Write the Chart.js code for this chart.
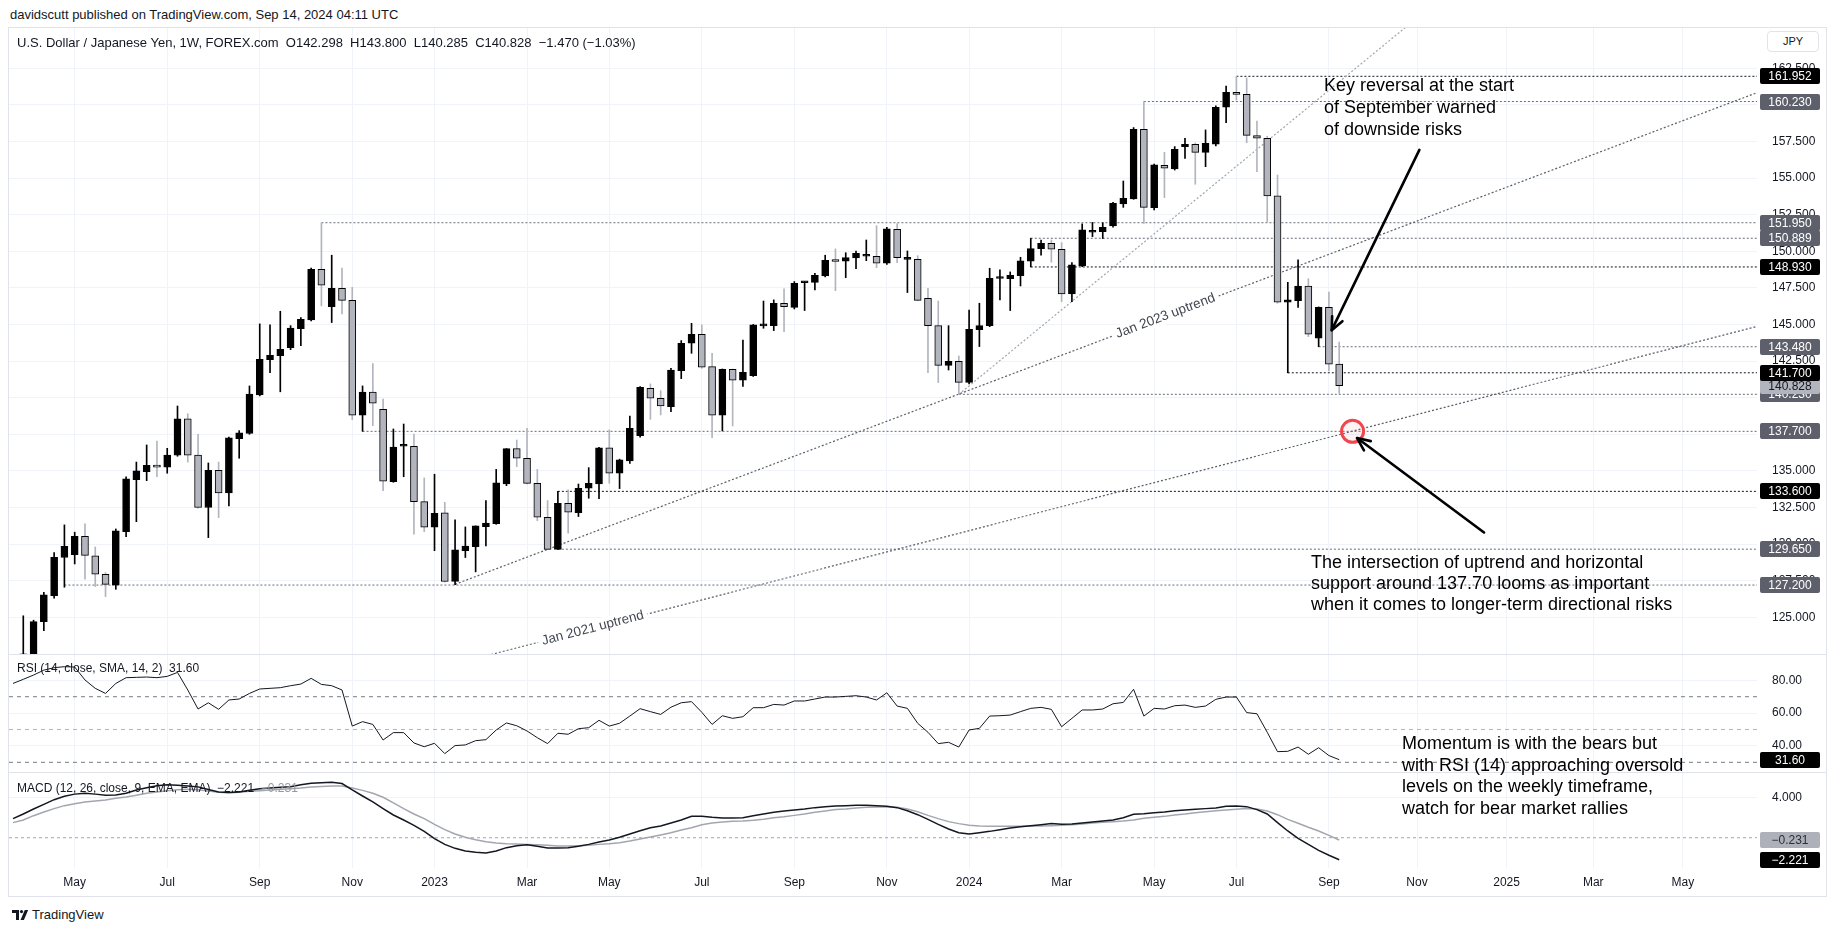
<!DOCTYPE html>
<html><head><meta charset="utf-8"><title>USD/JPY weekly</title>
<script src="https://cdn.jsdelivr.net/npm/chart.js@4/dist/chart.umd.min.js"></script>
<style>
html,body{margin:0;padding:0;background:#fff}
body{position:relative;width:1835px;height:931px;overflow:hidden;font-family:"Liberation Sans",Arial,sans-serif;color:#131722}
canvas{position:absolute;left:0}
.t{position:absolute;white-space:pre}
.ln{position:absolute;background:#e0e3eb}
</style></head><body>
<div class="t" style="left:10px;top:7px;font-size:13px;line-height:16px">davidscutt published on TradingView.com, Sep 14, 2024 04:11 UTC</div>
<canvas id="cMain" width="1835" height="627" style="top:27px"></canvas>
<canvas id="cRsi" width="1835" height="118" style="top:654px"></canvas>
<canvas id="cMacd" width="1835" height="124" style="top:772px"></canvas>
<div class="ln" style="left:8px;top:27px;width:1819px;height:1px"></div>
<div class="ln" style="left:8px;top:896px;width:1819px;height:1px"></div>
<div class="ln" style="left:8px;top:27px;width:1px;height:870px"></div>
<div class="ln" style="left:1826px;top:27px;width:1px;height:870px"></div>
<div class="ln" style="left:8px;top:654px;width:1819px;height:1px"></div>
<div class="ln" style="left:8px;top:772px;width:1819px;height:1px"></div>
<div class="t" style="left:17px;top:35px;font-size:13px;line-height:16px">U.S. Dollar / Japanese Yen, 1W, FOREX.com  O142.298  H143.800  L140.285  C140.828  −1.470 (−1.03%)</div>
<div class="t" style="left:1767px;top:31px;width:50px;height:19px;border:1px solid #e0e3eb;border-radius:4px;background:#fff;font-size:11px;line-height:19px;text-align:center">JPY</div>
<div class="t" style="left:1324px;top:74px;font-size:18px;line-height:22px;color:#000">Key reversal at the start
of September warned
of downside risks</div>
<div class="t" style="left:1311px;top:552px;font-size:18px;line-height:21px;color:#000">The intersection of uptrend and horizontal
support around 137.70 looms as important
when it comes to longer-term directional risks</div>
<div class="t" style="left:1402px;top:733px;font-size:18px;line-height:21.7px;color:#000">Momentum is with the bears but
with RSI (14) approaching oversold
levels on the weekly timeframe,
watch for bear market rallies</div>
<div class="t" style="left:17px;top:661px;font-size:12px;line-height:14px">RSI (14, close, SMA, 14, 2)  31.60</div>
<div class="t" style="left:17px;top:781px;font-size:12px;line-height:14px">MACD (12, 26, close, 9, EMA, EMA)  −2.221  <span style="color:#9598a1">−0.231</span></div>
<svg style="position:absolute;left:12px;top:909px" width="18" height="12" viewBox="0 0 18 12"><path d="M0 1h7v10H4V4H0z" fill="#131722"/><circle cx="9.5" cy="2.6" r="1.6" fill="#131722"/><path d="M8.5 11L12.8 1h3.4l-4.3 10z" fill="#131722"/></svg>
<div class="t" style="left:32px;top:907px;font-size:13px;line-height:16px;color:#131722">TradingView</div>

<script>
// ---------------- data ----------------
const weekStart = '2022-03-28';          // week of the first candle (index 0)
const opens = [122.05,122.50,124.70,126.48,129.08,129.28,130.53,129.20,127.94,127.20,
130.85,134.40,134.95,135.38,135.25,136.07,138.55,136.07,132.50,135.04,
133.50,137.20,137.55,140.19,142.60,142.87,143.42,144.72,145.31,148.77,
146.22,147.47,146.65,138.80,140.39,139.20,134.27,136.68,136.68,132.90,
131.15,132.13,127.44,129.55,129.83,131.19,131.40,134.10,136.52,135.86,
134.15,131.83,129.64,132.79,132.15,133.81,134.11,136.57,134.84,135.68,
137.40,140.64,139.96,139.39,141.85,143.72,144.33,142.12,138.80,141.94,
141.19,141.51,144.90,144.92,146.45,146.17,147.85,147.88,148.31,149.35,
149.32,149.54,149.66,149.66,149.18,151.50,149.45,149.45,146.79,144.92,
142.21,142.49,141.05,144.65,144.92,148.14,148.13,148.34,149.32,150.18,
150.55,150.14,147.09,149.00,151.30,151.34,151.73,153.23,153.57,158.33,
152.98,155.87,155.62,157.15,157.31,156.76,157.31,159.84,160.86,160.72,
157.90,157.72,153.78,146.52,146.63,147.63,144.06,146.17,142.298];
const highs = [125.10,124.80,126.71,129.42,131.31,130.81,131.38,129.80,128.05,131.03,
134.60,135.60,136.77,137.04,136.54,139.43,138.90,137.50,135.54,135.60,
137.30,137.75,140.80,145.04,144.97,145.90,144.92,145.47,148.86,151.95,
149.73,148.86,147.54,140.80,142.33,139.91,137.86,138.20,137.52,134.52,
134.77,132.85,131.65,131.17,131.24,132.97,135.10,136.52,137.11,137.90,
135.10,132.97,133.60,133.70,134.10,135.22,136.60,137.80,135.80,138.75,
140.75,140.94,140.48,142.00,143.90,145.08,144.97,143.03,141.96,141.96,
143.94,145.00,146.60,146.68,147.43,147.93,147.93,148.50,149.73,150.16,
149.90,150.02,150.77,151.75,151.64,151.90,150.02,149.70,147.47,146.60,
144.92,142.85,145.99,146.45,148.84,148.73,148.59,149.59,150.889,150.77,
150.77,150.59,149.23,151.87,151.97,151.95,153.35,154.80,158.45,160.23,
155.95,156.76,157.15,157.72,157.40,158.29,159.93,161.29,161.952,161.84,
158.90,157.86,155.21,147.88,149.41,148.13,146.20,147.22,143.80];
const lows = [121.30,122.40,124.09,126.30,127.05,128.64,127.60,127.10,126.41,126.91,
130.50,131.53,134.33,134.60,134.84,136.00,135.60,132.45,130.44,131.80,
132.60,135.86,137.50,140.12,141.70,140.40,143.28,143.56,145.25,146.27,
145.13,145.72,138.50,137.70,138.09,133.65,134.22,134.60,130.67,130.85,
129.55,127.40,127.23,129.08,128.10,129.87,131.35,133.99,135.29,134.10,
131.60,129.64,129.64,130.74,131.88,133.13,133.10,134.15,133.79,135.50,
137.30,138.52,138.82,139.05,141.30,143.03,142.00,137.27,137.73,138.07,
140.76,141.45,144.74,144.58,144.51,146.06,145.95,147.36,148.25,147.31,
148.20,148.82,149.36,148.88,149.10,149.23,147.18,146.62,141.71,141.03,
141.89,140.23,140.94,143.49,144.85,146.68,145.95,147.63,148.93,149.73,
149.25,146.56,146.56,148.95,151.00,150.87,151.65,153.00,153.55,151.91,
152.82,153.67,155.55,156.35,154.58,155.78,157.20,158.79,160.34,157.42,
155.44,151.98,146.45,141.70,146.17,144.17,143.48,141.83,140.285];
const closes = [122.50,124.70,126.53,129.10,129.85,130.53,129.23,127.94,127.25,130.90,
134.45,135.00,135.38,135.25,136.07,138.55,136.07,132.50,135.04,133.50,
137.25,137.60,140.25,142.62,142.90,143.30,144.76,145.35,148.77,147.68,
147.47,146.65,138.80,140.39,139.62,134.29,136.63,136.72,132.90,131.15,
132.10,127.44,129.60,129.87,131.24,131.44,134.18,136.52,135.86,134.15,
131.83,129.64,132.79,132.17,133.81,134.15,136.57,134.84,135.75,137.90,
140.71,139.96,139.44,141.89,143.72,144.33,142.08,138.80,141.94,141.19,
141.73,144.97,145.00,146.45,146.22,147.81,147.88,148.36,149.38,149.30,
149.57,149.86,149.68,149.18,151.53,149.57,149.50,146.65,144.92,142.21,
142.49,141.05,144.67,144.92,148.16,148.14,148.36,149.34,150.18,150.55,
150.14,147.09,149.07,151.46,151.37,151.64,153.28,153.62,158.33,153.00,
155.90,155.67,156.97,157.31,156.76,157.38,159.84,160.86,160.72,157.92,
157.72,153.78,146.52,146.68,147.63,144.33,146.17,142.28,140.828];

// indicator series start one week before the first candle
const indicatorFirstWeek = -1;
const rsiValues = [78.1,80.6,83.2,86.2,87.7,88.3,88.1,80.2,75.1,72.0,78.1,
81.6,81.8,82.0,81.6,82.4,84.8,74.1,62.5,66.3,62.3,
68.0,68.6,72.0,74.7,75.1,75.5,76.7,77.7,81.2,77.5,
76.7,74.1,52.1,54.8,53.1,43.6,48.1,48.1,41.8,39.5,
41.6,35.3,40.2,40.6,43.2,43.8,49.7,54.0,52.3,49.1,
45.0,41.4,47.7,47.1,50.5,51.1,55.6,52.1,53.8,58.2,
62.7,60.9,59.2,63.6,66.3,67.0,60.5,53.1,58.4,56.8,
57.8,63.3,63.3,65.3,64.9,67.4,67.4,68.6,69.8,69.8,
70.2,70.6,69.8,68.0,72.4,64.3,62.9,53.8,48.3,41.4,
42.2,39.3,49.7,50.7,58.2,58.4,58.8,60.9,62.9,63.5,
62.3,51.7,56.8,61.9,61.9,62.5,65.7,66.5,74.5,58.2,
62.9,62.5,64.5,64.9,63.5,64.3,68.4,69.8,69.8,60.3,
59.6,48.3,36.5,36.7,39.3,34.9,38.9,34.1,31.60];
const macdValues = [1.92,2.39,2.89,3.36,3.83,4.17,4.39,4.49,4.39,4.27,4.30,
4.47,4.81,5.04,5.24,5.33,5.29,5.22,5.12,4.86,4.60,
4.55,4.60,4.77,4.94,5.01,5.07,5.14,5.34,5.49,5.54,
5.59,5.46,4.81,4.20,3.60,2.93,2.29,1.78,1.25,0.64,
-0.10,-0.67,-1.07,-1.34,-1.47,-1.54,-1.34,-1.00,-0.80,-0.70,
-0.87,-1.04,-1.04,-1.00,-0.87,-0.67,-0.43,-0.23,0.04,0.37,
0.71,1.01,1.18,1.48,1.78,2.15,2.15,2.05,1.99,1.99,
2.02,2.22,2.39,2.56,2.69,2.79,2.89,3.03,3.13,3.19,
3.23,3.26,3.26,3.23,3.16,3.03,2.72,2.32,1.85,1.35,
0.88,0.51,0.37,0.51,0.64,0.81,0.98,1.11,1.21,1.31,
1.42,1.35,1.38,1.48,1.58,1.68,1.78,2.02,2.36,2.42,
2.52,2.59,2.72,2.79,2.86,2.93,2.99,3.16,3.19,3.13,
2.83,2.39,1.52,0.68,-0.06,-0.67,-1.27,-1.77,-2.221];
const signalValues = [1.52,1.79,2.22,2.59,2.93,3.23,3.43,3.60,3.70,3.80,3.97,
4.10,4.27,4.47,4.60,4.74,4.84,4.87,4.84,4.70,4.57,
4.54,4.57,4.67,4.74,4.81,4.87,4.94,5.01,5.11,5.17,
5.21,5.21,5.01,4.77,4.47,4.07,3.50,2.93,2.39,1.92,
1.35,0.81,0.37,0.04,-0.20,-0.40,-0.53,-0.60,-0.63,-0.67,
-0.70,-0.77,-0.83,-0.83,-0.80,-0.77,-0.67,-0.60,-0.50,-0.33,
-0.13,0.07,0.28,0.51,0.78,1.01,1.31,1.48,1.58,1.65,
1.68,1.75,1.85,2.02,2.12,2.25,2.39,2.56,2.69,2.83,
2.89,2.99,3.06,3.09,3.09,3.06,2.89,2.62,2.25,1.92,
1.62,1.42,1.25,1.18,1.15,1.15,1.15,1.15,1.18,1.18,
1.21,1.25,1.31,1.38,1.48,1.55,1.62,1.68,1.79,1.95,
2.05,2.15,2.29,2.39,2.52,2.62,2.72,2.79,2.86,2.93,
2.89,2.69,2.32,1.85,1.45,1.05,0.68,0.24,-0.231];

// axes
const priceTicks = [125,127.5,130,132.5,135,137.5,140,142.5,145,147.5,150,152.5,155,157.5,160,162.5];
const rsiTicks = [40,60,80];
const rsiBands = [70,50,30];
const macdTicks = [4];
const timeTickDates = ['2022-05-02','2022-07-04','2022-09-05','2022-11-07','2023-01-02','2023-03-06','2023-05-01','2023-07-03','2023-09-04','2023-11-06','2024-01-01','2024-03-04','2024-05-06','2024-07-01','2024-09-02','2024-11-01','2025-01-01','2025-03-01','2025-05-01'];
const timeTickLabels = ['May','Jul','Sep','Nov','2023','Mar','May','Jul','Sep','Nov','2024','Mar','May','Jul','Sep','Nov','2025','Mar','May'];

// horizontal levels: value, first week index, dark (black) or grey
const levelValues = [127.200,129.650,133.600,137.700,140.230,141.700,143.480,148.930,150.889,151.950,160.230,161.952];
const levelStartWeek = [4,52,52,33,91,123,126,98,98,29,109,118];
const levelDark = [false,false,true,false,false,true,false,true,false,false,false,true];
const lastClose = 140.828;

// trend lines [week, price] end points
const trendJan2021 = [[44,122.18],[168.7,144.88]];
const trendJan2023 = [[42,127.25],[168.7,160.85]];
const trendSteep = [[91,140.23],[136,166.19]];
const trendLabelJan2021 = {text:'Jan 2021 uptrend', week:55.4};
const trendLabelJan2023 = {text:'Jan 2023 uptrend', week:111.1};
// annotations [week, price]
const arrowKeyReversal = [[135.8,156.93],[127.27,144.61]];
const arrowSupport = [[142.09,130.79],[129.74,137.24]];
const supportCircle = [129.3,137.7];

// ---------------- chart setup ----------------
const FONT = '"Liberation Sans", Arial, sans-serif';
Chart.defaults.font.family = FONT;
Chart.defaults.font.size = 12;
Chart.defaults.color = '#131722';
const X_MIN = -1.39, X_MAX = 168.64;
const GRID = '#f0f3fa';
const toWeek = d => (Date.parse(d) - Date.parse(weekStart)) / 604800000;
const tickWeeks = timeTickDates.map(toWeek);
const fmtSigned = (v, d) => (v < 0 ? '\u2212' : '') + Math.abs(v).toFixed(d);

function xAxis(showLabels) {
  return {
    type: 'linear', min: X_MIN, max: X_MAX, offset: false, bounds: 'data',
    grid: { color: GRID, drawTicks: false, offset: false },
    border: { display: false },
    ticks: { display: showLabels, autoSkip: false, maxRotation: 0, minRotation: 0, padding: 7,
      font: { size: 12 }, color: '#131722',
      callback: (v, i) => timeTickLabels[i] },
    afterBuildTicks: s => { s.ticks = tickWeeks.map(v => ({ value: v })); },
    afterFit: s => { s.height = showLabels ? 28 : 0; s.paddingLeft = 0; s.paddingRight = 0; }
  };
}
function yAxis(min, max, vals, dec) {
  return {
    type: 'linear', position: 'right', min, max, bounds: 'data',
    grid: { color: GRID, drawTicks: false },
    border: { display: false },
    ticks: { padding: 15, font: { size: 12 }, color: '#131722', callback: v => fmtSigned(v, dec) },
    afterBuildTicks: s => { s.ticks = vals.map(v => ({ value: v })); },
    afterFit: s => { s.width = 69; s.paddingTop = 0; s.paddingBottom = 0; }
  };
}
const boxPlugin = {
  id: 'axisBoxes',
  afterDraw(chart, args, opts) {
    const { ctx, chartArea: a } = chart; const y = chart.scales.y;
    ctx.save();
    for (const b of opts.items) {
      const py = Math.round(y.getPixelForValue(b.value));
      ctx.fillStyle = b.bg;
      ctx.beginPath(); ctx.roundRect(a.right + 3, py - 8, 60, 16, 2); ctx.fill();
      ctx.fillStyle = b.fg; ctx.font = '12px ' + FONT; ctx.textAlign = 'center'; ctx.textBaseline = 'middle';
      ctx.fillText(b.text, a.right + 33, py + 0.5);
    }
    ctx.restore();
  }
};
const baseOpts = {
  responsive: false, animation: false, devicePixelRatio: 1,
  layout: { padding: { left: 9, right: 9, top: 0, bottom: 0 }, autoPadding: false },
  events: []
};
function lineDs(points, color, width, dash, order) {
  return { type: 'line', data: points.map(p => ({ x: p[0], y: p[1] })), borderColor: color, borderWidth: width,
    borderDash: dash || [], pointRadius: 0, fill: false, tension: 0, order: order || 0, clip: 0 };
}

// ---- main price pane ----
const isUp = i => closes[i] >= opens[i];
const wickDs = { type: 'bar', data: opens.map((o, i) => ({ x: i, y: [lows[i], highs[i]] })),
  backgroundColor: c => (c.dataIndex !== undefined && isUp(c.dataIndex)) ? '#000000' : '#b2b5be',
  borderWidth: 0, barThickness: 1, grouped: false, order: 2, clip: 0 };
const bodyDs = { type: 'bar', data: opens.map((o, i) => ({ x: i, y: [Math.min(o, closes[i]), Math.max(o, closes[i])] })),
  backgroundColor: c => (c.dataIndex !== undefined && isUp(c.dataIndex)) ? '#000000' : '#b2b5be',
  borderColor: '#000000', borderWidth: 1, borderSkipped: false, barThickness: 7, minBarLength: 2,
  grouped: false, order: 1, clip: 0 };
const levelDs = levelValues.map((v, k) => lineDs([[levelStartWeek[k], v], [X_MAX, v]], levelDark[k] ? '#131722' : '#6a6d78', 1, [2, 2], 3));
const trendDs = [
  lineDs(trendJan2021, '#5d606b', 1.2, [2, 2], 3),
  lineDs(trendJan2023, '#5d606b', 1.2, [2, 2], 3),
  lineDs(trendSteep, '#a3a6af', 1.2, [2, 2], 3)
];
const priceBoxes = levelValues.map((v, k) => ({ value: v, bg: levelDark[k] ? '#000000' : '#5d606b', fg: '#ffffff', text: v.toFixed(3) }))
  .concat([{ value: lastClose, bg: '#b2b5be', fg: '#131722', text: lastClose.toFixed(3) }])
  .sort((p, q) => p.value - q.value);

function onLine(line, w) {
  const [p0, p1] = line; return p0[1] + (p1[1] - p0[1]) * (w - p0[0]) / (p1[0] - p0[0]);
}
const annotPlugin = {
  id: 'annot',
  afterDatasetsDraw(chart) {
    const { ctx, chartArea: a } = chart; const xs = chart.scales.x, ys = chart.scales.y;
    const P = p => [xs.getPixelForValue(p[0]), ys.getPixelForValue(p[1])];
    ctx.save();
    ctx.beginPath(); ctx.rect(a.left, a.top, a.width, a.height); ctx.clip();
    for (const [line, lab] of [[trendJan2021, trendLabelJan2021], [trendJan2023, trendLabelJan2023]]) {
      const [x0, y0] = P(line[0]), [x1, y1] = P(line[1]);
      const [cx, cy] = P([lab.week, onLine(line, lab.week)]);
      ctx.save(); ctx.translate(cx, cy); ctx.rotate(Math.atan2(y1 - y0, x1 - x0));
      ctx.font = '13.5px ' + FONT; const tw = ctx.measureText(lab.text).width;
      ctx.fillStyle = '#ffffff'; ctx.fillRect(-tw / 2 - 4, -8, tw + 8, 16);
      ctx.fillStyle = '#434651'; ctx.textAlign = 'center'; ctx.textBaseline = 'middle';
      ctx.fillText(lab.text, 0, 0); ctx.restore();
    }
    const [ccx, ccy] = P(supportCircle);
    ctx.beginPath(); ctx.arc(ccx, ccy, 11, 0, Math.PI * 2);
    ctx.fillStyle = 'rgba(242,54,69,0.06)'; ctx.fill();
    ctx.lineWidth = 3; ctx.strokeStyle = '#f0464d'; ctx.stroke();
    function arrow(ar) {
      const [x0, y0] = P(ar[0]), [x1, y1] = P(ar[1]);
      const ang = Math.atan2(y1 - y0, x1 - x0), h = 14;
      ctx.strokeStyle = '#000000'; ctx.lineWidth = 2.6; ctx.lineCap = 'round'; ctx.lineJoin = 'round';
      ctx.beginPath(); ctx.moveTo(x0, y0); ctx.lineTo(x1, y1); ctx.stroke();
      ctx.beginPath();
      ctx.moveTo(x1 - h * Math.cos(ang - 0.42), y1 - h * Math.sin(ang - 0.42));
      ctx.lineTo(x1, y1);
      ctx.lineTo(x1 - h * Math.cos(ang + 0.42), y1 - h * Math.sin(ang + 0.42));
      ctx.stroke();
    }
    arrow(arrowKeyReversal); arrow(arrowSupport);
    ctx.restore();
  }
};
new Chart(document.getElementById('cMain'), {
  type: 'bar',
  data: { datasets: [...trendDs, ...levelDs, wickDs, bodyDs] },
  options: Object.assign({}, baseOpts, {
    scales: { x: xAxis(false), y: yAxis(122.49, 165.32, priceTicks, 3) },
    plugins: { legend: { display: false }, tooltip: { enabled: false }, axisBoxes: { items: priceBoxes } }
  }),
  plugins: [annotPlugin, boxPlugin]
});

// ---- RSI pane ----
const rsiPts = rsiValues.map((v, i) => [i + indicatorFirstWeek, v]);
new Chart(document.getElementById('cRsi'), {
  type: 'line',
  data: { datasets: [
    ...rsiBands.map((b, k) => lineDs([[X_MIN, b], [X_MAX, b]], k === 1 ? '#b2b5be' : '#787b86', 1, [4, 4], 2)),
    lineDs(rsiPts, '#131722', 1, [], 1)
  ] },
  options: Object.assign({}, baseOpts, {
    scales: { x: xAxis(false), y: yAxis(24.09, 96.04, rsiTicks, 2) },
    plugins: { legend: { display: false }, tooltip: { enabled: false },
      axisBoxes: { items: [{ value: rsiValues[rsiValues.length - 1], bg: '#000000', fg: '#ffffff', text: rsiValues[rsiValues.length - 1].toFixed(2) }] } }
  }),
  plugins: [boxPlugin]
});

// ---- MACD pane ----
const macdPts = macdValues.map((v, i) => [i + indicatorFirstWeek, v]);
const sigPts = signalValues.map((v, i) => [i + indicatorFirstWeek, v]);
const mLast = macdValues[macdValues.length - 1], sLast = signalValues[signalValues.length - 1];
new Chart(document.getElementById('cMacd'), {
  type: 'line',
  data: { datasets: [
    lineDs([[X_MIN, 0], [X_MAX, 0]], '#a3a6af', 1, [3, 3], 3),
    lineDs(sigPts, '#a3a6af', 1.5, [], 2),
    lineDs(macdPts, '#131722', 1.5, [], 1)
  ] },
  options: Object.assign({}, baseOpts, {
    scales: { x: xAxis(true), y: yAxis(-3.049, 6.618, macdTicks, 3) },
    plugins: { legend: { display: false }, tooltip: { enabled: false },
      axisBoxes: { items: [
        { value: sLast, bg: '#aeb1b9', fg: '#2a2e39', text: fmtSigned(sLast, 3) },
        { value: mLast, bg: '#000000', fg: '#ffffff', text: fmtSigned(mLast, 3) }
      ] } }
  }),
  plugins: [boxPlugin]
});
</script>
</body></html>
